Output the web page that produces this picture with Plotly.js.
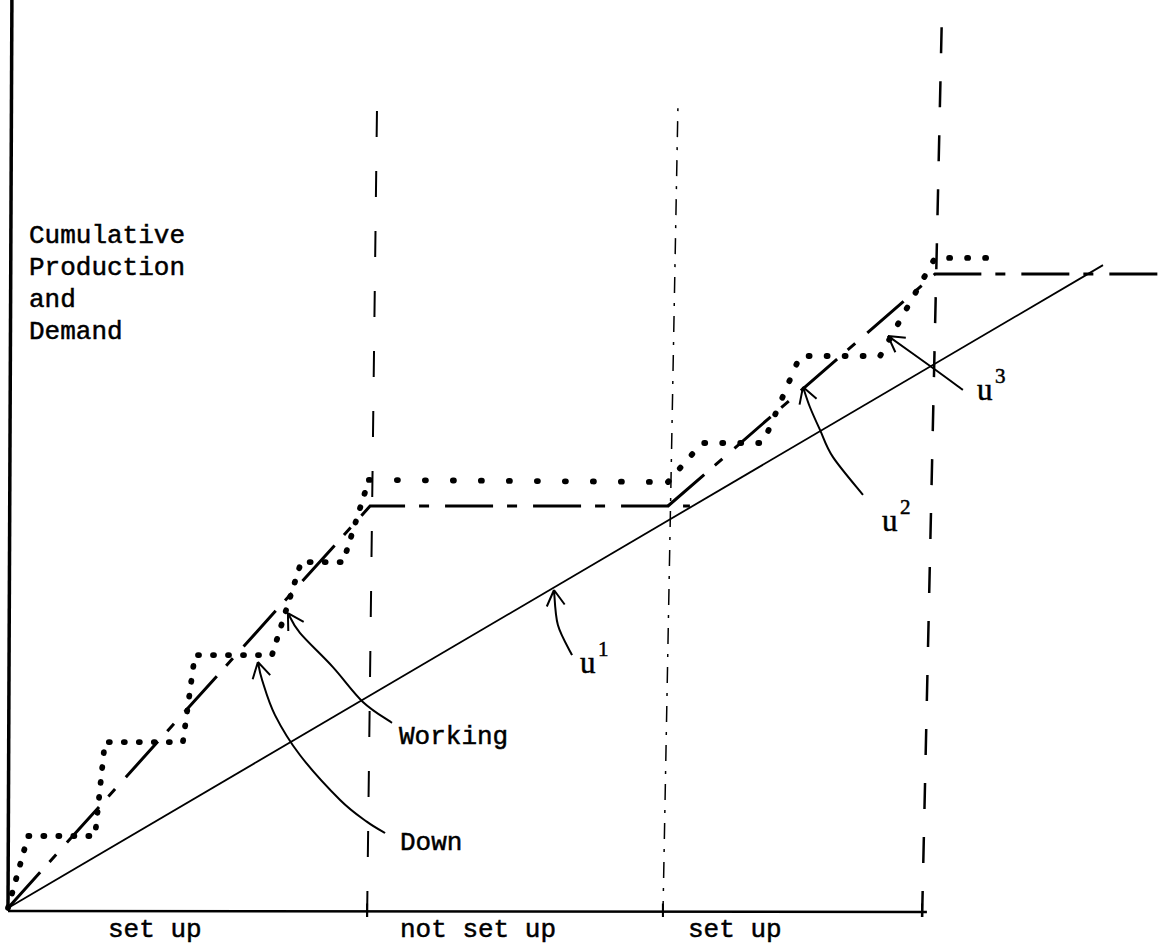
<!DOCTYPE html>
<html>
<head>
<meta charset="utf-8">
<script src="https://cdn.plot.ly/plotly-3.0.1.min.js"></script>
<style>
  html, body { margin: 0; padding: 0; background: #fff; }
  #chart { width: 1159px; height: 952px; }
</style>
</head>
<body>
<div id="chart"></div>
<script>
// Cumulative demand: constant-rate line from the origin
const demandTime = [0, 36.5];
const demandCum = [0, 21.43];

// Production trajectory: rises while set up, flat while not set up
const prodTimeA = [0, 12.07, 22.73];
const prodCumA = [0, 13.4, 13.4];
const prodTimeB = [22.0, 30.9, 38.4];
const prodCumB = [13.4, 21.13, 21.13];

// Staircase trajectory (machine working / down)
const stairTime = [0, 0.67, 2.9, 3.23, 5.83, 6.23, 8.8, 9.77, 11.17, 12.03, 22.0, 23.13, 25.17, 26.4, 29.07, 30.9, 33.07];
const stairCum  = [0, 2.4, 2.4, 5.53, 5.53, 8.43, 8.43, 11.53, 11.53, 14.27, 14.2, 15.5, 15.5, 18.4, 18.4, 21.67, 21.67];
// index ranges of the staircase drawn with different dot spacing
const stairParts = [[0, 9], [9, 10], [10, 16]];
const stairDash  = ['1px,14px', '1px,27px', '1px,17px'];

// Boundaries between set-up periods (hand-drawn, slightly leaning)
const boundaryTimeLow  = [11.97, 21.83, 30.47];
const boundaryTimeHigh = [12.3, 22.33, 31.13];
const boundaryTop      = [26.67, 26.67, 29.77];
const boundaryBottom   = -0.3;
const boundaryDash     = ['26px,34px', '16px,10px,3px,10px', '26px,28px'];
const boundaryWidth    = [2, 1.5, 2.5];

// Period labels under the time axis
const periodLabels    = ['set up', 'not set up', 'set up'];
const periodLabelTime = [4.9, 15.67, 24.23];

// Vertical axis title, one entry per line
const axisTitleLines = ['Cumulative', 'Production', 'and', 'Demand'];

// Pointer labels and the curves that lead to the marked lines
const pointerLabels = ['Working', 'Down'];
const pointerLabelPos = [[12.97, 5.7], [13.0, 2.17]];
const uLabelIndex = ['1', '2', '3'];
const uLabelPos = [[19.0, 8.2], [29.07, 12.93], [32.23, 17.27]];
const pointerCurves = [
  [[12.8, 6.17], [11.83, 6.87], [10.83, 8.03], [9.73, 9.17], [9.33, 9.83]],
  [[12.57, 2.5], [11.97, 2.87], [11.07, 3.6], [9.73, 5.1], [8.9, 6.43], [8.47, 7.6], [8.33, 8.2]],
  [[18.8, 8.43], [18.33, 9.43], [18.2, 10.6]],
  [[28.5, 13.77], [27.5, 15.03], [27.07, 15.93], [26.73, 16.7], [26.5, 17.37]],
  [[31.83, 17.27], [30.83, 18.0], [29.33, 19.07]]
];

const axisTop = 30.27;
const axisEnd = 30.63;

const mono = 'Liberation Mono, Courier New, monospace';
const serif = 'Liberation Serif, Times New Roman, serif';

// Smooth curve through points (Catmull-Rom as cubic Beziers) with an open arrowhead at the end
function pointerPath(pts) {
  const p = pts;
  let d = 'M' + p[0][0] + ',' + p[0][1];
  for (let i = 0; i < p.length - 1; i++) {
    const a = p[Math.max(i - 1, 0)], b = p[i], c = p[i + 1], e = p[Math.min(i + 2, p.length - 1)];
    const c1 = [b[0] + (c[0] - a[0]) / 6, b[1] + (c[1] - a[1]) / 6];
    const c2 = [c[0] - (e[0] - b[0]) / 6, c[1] - (e[1] - b[1]) / 6];
    d += ' C' + c1[0] + ',' + c1[1] + ' ' + c2[0] + ',' + c2[1] + ' ' + c[0] + ',' + c[1];
  }
  const tip = p[p.length - 1], prev = p[p.length - 2];
  let dx = tip[0] - prev[0], dy = tip[1] - prev[1];
  const n = Math.hypot(dx, dy); dx /= n; dy /= n;
  const L = 0.6, ang = 30 * Math.PI / 180;
  [ang, -ang].forEach(t => {
    const rx = dx * Math.cos(t) - dy * Math.sin(t);
    const ry = dx * Math.sin(t) + dy * Math.cos(t);
    d += ' M' + tip[0] + ',' + tip[1] + ' L' + (tip[0] - L * rx) + ',' + (tip[1] - L * ry);
  });
  return d;
}

const traces = [
  { x: demandTime, y: demandCum, mode: 'lines', line: { color: '#000', width: 1.8 } },
  { x: prodTimeA, y: prodCumA, mode: 'lines', line: { color: '#000', width: 3, dash: '48px,14px,10px,16px' } },
  { x: prodTimeB, y: prodCumB, mode: 'lines', line: { color: '#000', width: 3, dash: '48px,14px,10px,16px' } }
];
const dottedStart = traces.length;
stairParts.forEach((r, i) => {
  traces.push({
    x: stairTime.slice(r[0], r[1] + 1), y: stairCum.slice(r[0], r[1] + 1), mode: 'lines',
    line: { color: '#000', width: 5.8, dash: stairDash[i] }
  });
});
boundaryTimeLow.forEach((t, i) => {
  traces.push({
    x: [t, boundaryTimeHigh[i]], y: [boundaryBottom, boundaryTop[i]], mode: 'lines',
    line: { color: '#000', width: boundaryWidth[i], dash: boundaryDash[i] }
  });
});

const shapes = [
  // vertical (cumulative) axis and horizontal (time) axis
  { type: 'line', x0: 0, y0: -0.05, x1: 0.13, y1: axisTop, line: { color: '#000', width: 3.5 } },
  { type: 'line', x0: 0, y0: -0.1, x1: axisEnd, y1: -0.13, line: { color: '#000', width: 2.5 } }
];
boundaryTimeLow.forEach(t => {
  shapes.push({ type: 'line', x0: t, y0: -0.3, x1: t, y1: 0.15, line: { color: '#000', width: 2 } });
});
pointerCurves.forEach(c => {
  shapes.push({ type: 'path', path: pointerPath(c), line: { color: '#000', width: 2 } });
});

const monoFont = { family: mono, size: 26, color: '#000' };
const annotations = [];
periodLabels.forEach((s, i) => {
  annotations.push({ x: periodLabelTime[i], y: -0.73, text: s, showarrow: false,
    xanchor: 'center', yanchor: 'middle', font: monoFont });
});
axisTitleLines.forEach((s, i) => {
  annotations.push({ x: 0.63, y: 22.4 - i * 1.07, text: s, showarrow: false,
    xanchor: 'left', yanchor: 'middle', font: monoFont });
});
pointerLabels.forEach((s, i) => {
  annotations.push({ x: pointerLabelPos[i][0], y: pointerLabelPos[i][1], text: s, showarrow: false,
    xanchor: 'left', yanchor: 'middle', font: monoFont });
});
uLabelPos.forEach((p, i) => {
  annotations.push({ x: p[0], y: p[1], text: 'u', showarrow: false,
    xanchor: 'left', yanchor: 'middle', font: { family: serif, size: 31, color: '#000' } });
  annotations.push({ x: p[0] + 0.6, y: p[1] + 0.45, text: uLabelIndex[i], showarrow: false,
    xanchor: 'left', yanchor: 'middle', font: { family: serif, size: 21, color: '#000' } });
});

const layout = {
  width: 1159, height: 952,
  margin: { l: 0, r: 0, t: 0, b: 0 },
  paper_bgcolor: '#fff', plot_bgcolor: '#fff',
  showlegend: false,
  xaxis: { range: [-0.2667, 38.3667], visible: false, fixedrange: true },
  yaxis: { range: [-1.4667, 30.2667], visible: false, fixedrange: true },
  shapes: shapes,
  annotations: annotations
};

Plotly.newPlot('chart', traces, layout, { displayModeBar: false, staticPlot: true }).then(gd => {
  // round caps turn the short dashes of the staircase into dots
  const tr = gd.querySelectorAll('.scatterlayer .trace');
  for (let k = dottedStart; k < dottedStart + stairParts.length; k++) {
    if (tr[k]) tr[k].querySelectorAll('path.js-line').forEach(p => { p.style.strokeLinecap = 'round'; });
  }
  // typewriter-like weight for the lettering
  gd.querySelectorAll('.annotation-text').forEach(t => {
    t.style.stroke = '#000';
    t.style.strokeWidth = '0.5px';
  });
});
</script>
</body>
</html>
